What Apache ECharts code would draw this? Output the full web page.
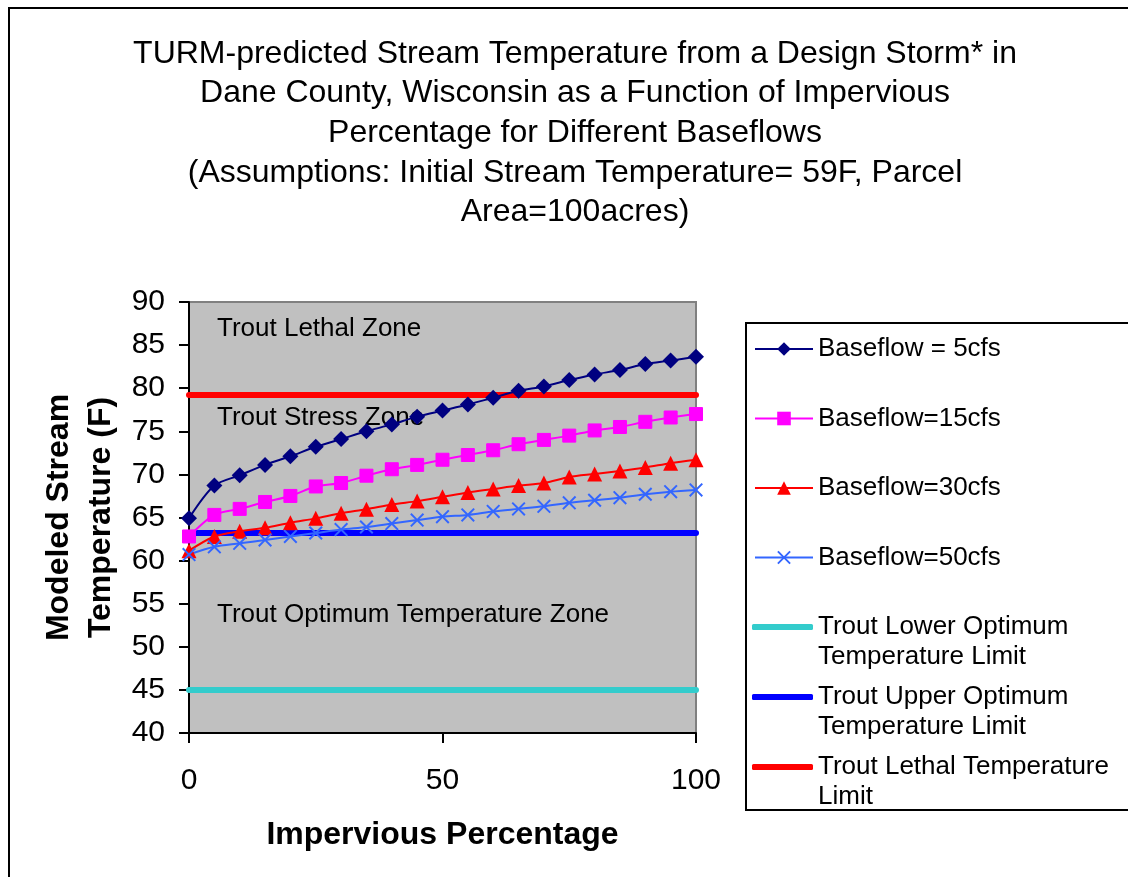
<!DOCTYPE html>
<html>
<head>
<meta charset="utf-8">
<title>TURM stream temperature</title>
<script src="https://cdn.jsdelivr.net/npm/echarts@6/dist/echarts.min.js"></script>
<style>
    html, body { margin: 0; padding: 0; background: #fff; }
    #main { width: 1128px; height: 877px; }
</style>
</head>
<body>
<div id="main"></div>
<script>
    // impervious percentage (x) and modeled temperatures (F)
    var impervious = [0, 5, 10, 15, 20, 25, 30, 35, 40, 45, 50, 55, 60, 65, 70, 75, 80, 85, 90, 95, 100];
    var flow5  = [64.9, 68.7, 69.9, 71.1, 72.1, 73.2, 74.1, 75.0, 75.8, 76.7, 77.4, 78.1, 78.9, 79.7, 80.2, 80.95, 81.6, 82.1, 82.8, 83.2, 83.65];
    var flow15 = [62.8, 65.3, 66.0, 66.8, 67.5, 68.6, 69.0, 69.85, 70.6, 71.1, 71.7, 72.25, 72.8, 73.5, 74.0, 74.5, 75.1, 75.5, 76.1, 76.6, 77.0];
    var flow30 = [61.15, 62.8, 63.4, 63.8, 64.4, 64.9, 65.5, 65.95, 66.5, 66.9, 67.4, 67.9, 68.3, 68.7, 69.0, 69.7, 70.05, 70.4, 70.8, 71.3, 71.7];
    var flow50 = [60.7, 61.6, 62.0, 62.4, 62.8, 63.2, 63.6, 63.9, 64.3, 64.7, 65.1, 65.3, 65.7, 66.0, 66.3, 66.7, 67.0, 67.3, 67.7, 68.0, 68.2];

    // limit lines, drawn across the whole x range
    var limitX = [0, 100];
    var lowerOptimum = 45;
    var upperOptimum = 63.2;
    var lethalLimit = 79.2;

    var FONT = "'Liberation Sans', Arial, sans-serif";

    function pairs(ys) {
        var out = [];
        for (var i = 0; i < impervious.length; i++) out.push([impervious[i], ys[i]]);
        return out;
    }
    function flat(v) {
        return limitX.map(function (x) { return [x, v]; });
    }

    var crossIcon = 'path://M0,1L1,0L5,4L9,0L10,1L6,5L10,9L9,10L5,6L1,10L0,9L4,5Z';

    var myChart = echarts.init(document.getElementById('main'));
    var option = {
        animation: false,
        textStyle: { fontFamily: FONT },
        title: {
            text: 'TURM-predicted Stream Temperature from a Design Storm* in\nDane County, Wisconsin as a Function of Impervious\nPercentage for Different Baseflows\n(Assumptions: Initial Stream Temperature= 59F, Parcel\nArea=100acres)',
            left: 575,
            top: 34,
            padding: 0,
            textAlign: 'center',
            textStyle: {
                fontFamily: FONT, fontSize: 32, fontWeight: 'normal',
                color: '#000', lineHeight: 39.7
            }
        },
        grid: {
            left: 189, top: 302, right: 432, bottom: 144,
            outerBoundsMode: 'none',
            show: true,
            backgroundColor: '#C0C0C0',
            borderColor: '#808080',
            borderWidth: 2
        },
        legend: [
            {
                orient: 'vertical',
                left: 754, top: 334,
                padding: 0,
                itemWidth: 58, itemHeight: 17,
                itemGap: 39.5,
                textStyle: { fontFamily: FONT, fontSize: 26, color: '#000', lineHeight: 30 },
                data: ['Baseflow = 5cfs', 'Baseflow=15cfs', 'Baseflow=30cfs', 'Baseflow=50cfs']
            },
            {
                // an empty first line keeps the icon level with the first text line
                orient: 'vertical',
                left: 752, top: 582,
                padding: 0,
                icon: 'roundRect',
                itemWidth: 61, itemHeight: 6,
                itemGap: -20,
                formatter: function (name) { return '\n' + name; },
                textStyle: { fontFamily: FONT, fontSize: 26, color: '#000', lineHeight: 30 },
                data: [
                    'Trout Lower Optimum\nTemperature Limit',
                    'Trout Upper Optimum\nTemperature Limit',
                    'Trout Lethal Temperature\nLimit'
                ]
            }
        ],
        xAxis: {
            type: 'value',
            min: 0, max: 100, interval: 50,
            name: 'Impervious Percentage',
            nameLocation: 'middle',
            nameGap: 86,
            nameMoveOverlap: false,
            nameTextStyle: { fontFamily: FONT, fontSize: 32, fontWeight: 'bold', color: '#000' },
            axisLine: { lineStyle: { color: '#000', width: 2 } },
            axisTick: { show: true, length: 10, lineStyle: { color: '#000', width: 2 } },
            axisLabel: { fontFamily: FONT, fontSize: 30, color: '#000', margin: 33 },
            splitLine: { show: false }
        },
        yAxis: {
            type: 'value',
            min: 40, max: 90, interval: 5,
            name: 'Modeled Stream\nTemperature (F)',
            nameLocation: 'middle',
            nameGap: 67,
            nameRotate: 90,
            nameMoveOverlap: false,
            nameTextStyle: { fontFamily: FONT, fontSize: 32, fontWeight: 'bold', color: '#000', lineHeight: 42 },
            axisLine: { lineStyle: { color: '#000', width: 2 } },
            axisTick: { show: true, length: 10, lineStyle: { color: '#000', width: 2 } },
            axisLabel: { fontFamily: FONT, fontSize: 30, color: '#000', margin: 24 },
            splitLine: { show: false }
        },
        series: [
            {
                name: 'Baseflow = 5cfs',
                type: 'line',
                smooth: 0.3,
                data: pairs(flow5),
                symbol: 'diamond',
                symbolSize: 16,
                lineStyle: { color: '#000080', width: 2 },
                itemStyle: { color: '#000080' },
                z: 5
            },
            {
                name: 'Baseflow=15cfs',
                type: 'line',
                smooth: 0.3,
                data: pairs(flow15),
                symbol: 'rect',
                symbolSize: 13,
                lineStyle: { color: '#FF00FF', width: 2 },
                itemStyle: { color: '#FF00FF', borderColor: '#FF00FF' },
                z: 5
            },
            {
                name: 'Baseflow=30cfs',
                type: 'line',
                smooth: 0.3,
                data: pairs(flow30),
                symbol: 'triangle',
                symbolSize: 15,
                lineStyle: { color: '#FF0000', width: 2 },
                itemStyle: { color: '#FF0000' },
                z: 5
            },
            {
                name: 'Baseflow=50cfs',
                type: 'line',
                smooth: 0.3,
                data: pairs(flow50),
                symbol: crossIcon,
                symbolSize: 14,
                lineStyle: { color: '#3366FF', width: 2 },
                itemStyle: { color: '#3366FF' },
                z: 5
            },
            {
                name: 'Trout Lower Optimum\nTemperature Limit',
                type: 'line',
                data: flat(lowerOptimum),
                symbol: 'none',
                lineStyle: { color: '#33CCCC', width: 6, cap: 'round' },
                itemStyle: { color: '#33CCCC' },
                z: 3
            },
            {
                name: 'Trout Upper Optimum\nTemperature Limit',
                type: 'line',
                data: flat(upperOptimum),
                symbol: 'none',
                lineStyle: { color: '#0000FF', width: 6, cap: 'round' },
                itemStyle: { color: '#0000FF' },
                z: 3
            },
            {
                name: 'Trout Lethal Temperature\nLimit',
                type: 'line',
                data: flat(lethalLimit),
                symbol: 'none',
                lineStyle: { color: '#FF0000', width: 6, cap: 'round' },
                itemStyle: { color: '#FF0000' },
                z: 3
            }
        ],
        graphic: [
            // outer chart frame
            { type: 'rect', shape: { x: 9, y: 8, width: 1300, height: 1000 }, style: { fill: 'none', stroke: '#000', lineWidth: 2 }, z: 10 },
            // legend frame
            { type: 'rect', shape: { x: 746, y: 323, width: 420, height: 487 }, style: { fill: 'none', stroke: '#000', lineWidth: 2 }, z: 10 },
            // zone labels
            { type: 'text', x: 217, y: 329, style: { text: 'Trout Lethal Zone', font: '26px ' + FONT, fill: '#000', verticalAlign: 'middle' }, z: 4 },
            { type: 'text', x: 217, y: 418, style: { text: 'Trout Stress Zone', font: '26px ' + FONT, fill: '#000', verticalAlign: 'middle' }, z: 4 },
            { type: 'text', x: 217, y: 615, style: { text: 'Trout Optimum Temperature Zone', font: '26px ' + FONT, fill: '#000', verticalAlign: 'middle' }, z: 4 }
        ]
    };
    myChart.setOption(option);

    window.onresize = function () {
        myChart.resize();
    };
</script>
</body>
</html>
